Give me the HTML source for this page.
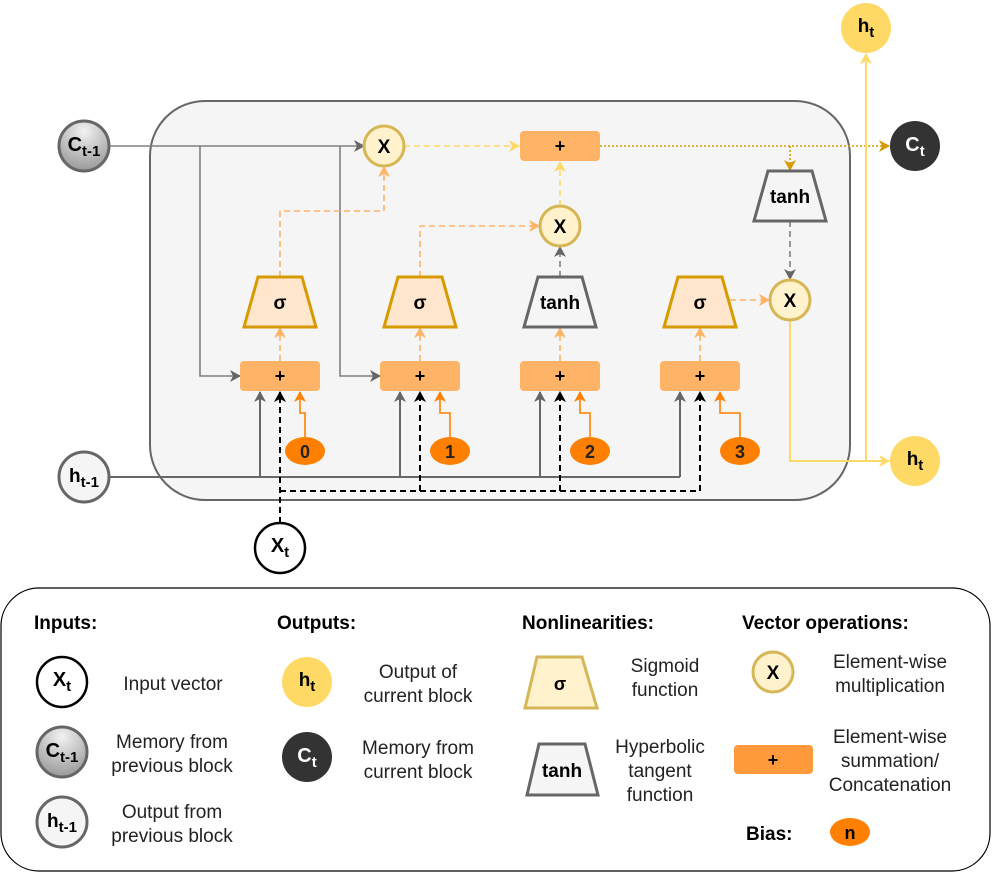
<!DOCTYPE html>
<html><head><meta charset="utf-8"><style>
body{margin:0;background:#fff}
svg{display:block;font-family:"Liberation Sans",Arial,sans-serif}
.b{font-weight:bold}
</style></head><body>
<svg width="992" height="873" viewBox="0 0 992 873" xmlns="http://www.w3.org/2000/svg">
<defs>
<radialGradient id="gc" cx="50%" cy="20%" r="80%"><stop offset="0" stop-color="#f2f2f2"/><stop offset="1" stop-color="#999"/></radialGradient>
<marker id="ag" markerWidth="12" markerHeight="12" refX="10" refY="6" orient="auto" markerUnits="userSpaceOnUse"><path d="M0,0 L11,6 L0,12 L3,6z" fill="#666"/></marker>
<marker id="ak" markerWidth="12" markerHeight="12" refX="10" refY="6" orient="auto" markerUnits="userSpaceOnUse"><path d="M0,0 L11,6 L0,12 L3,6z" fill="#000"/></marker>
<marker id="ao" markerWidth="12" markerHeight="12" refX="10" refY="6" orient="auto" markerUnits="userSpaceOnUse"><path d="M0,0 L11,6 L0,12 L3,6z" fill="#FF8000"/></marker>
<marker id="al" markerWidth="12" markerHeight="12" refX="10" refY="6" orient="auto" markerUnits="userSpaceOnUse"><path d="M0,0 L11,6 L0,12 L3,6z" fill="#FFB366"/></marker>
<marker id="ay" markerWidth="12" markerHeight="12" refX="10" refY="6" orient="auto" markerUnits="userSpaceOnUse"><path d="M0,0 L11,6 L0,12 L3,6z" fill="#FFD966"/></marker>
<marker id="ad" markerWidth="12" markerHeight="12" refX="10" refY="6" orient="auto" markerUnits="userSpaceOnUse"><path d="M0,0 L11,6 L0,12 L3,6z" fill="#D79B00"/></marker>
</defs>

<rect x="150" y="101" width="700" height="399" rx="55" fill="#f5f5f5" stroke="#666" stroke-width="2"/>

<g stroke="#808080" stroke-width="1.6" fill="none">
<path d="M109,146 H364" marker-end="url(#ag)"/>
<path d="M200,146 V376 H240" marker-end="url(#ag)"/>
<path d="M340,146 V376 H380" marker-end="url(#ag)"/>
</g>
<g stroke="#666" stroke-width="2" fill="none">
<path d="M109,477 H680"/>
<path d="M260,477 V392" marker-end="url(#ag)"/>
<path d="M400,477 V392" marker-end="url(#ag)"/>
<path d="M540,477 V392" marker-end="url(#ag)"/>
<path d="M680,477 V392" marker-end="url(#ag)"/>
</g>
<g stroke="#000" stroke-width="2" fill="none" stroke-dasharray="6,4">
<path d="M280,523 V392" marker-end="url(#ak)"/>
<path d="M280,491 H700"/>
<path d="M420,491 V392" marker-end="url(#ak)"/>
<path d="M560,491 V392" marker-end="url(#ak)"/>
<path d="M700,491 V392" marker-end="url(#ak)"/>
</g>
<g stroke="#FF8000" stroke-width="1.6" fill="none">
<path d="M305,437 V413 H300 V392" marker-end="url(#ao)"/>
<path d="M450,437 V413 H440 V392" marker-end="url(#ao)"/>
<path d="M590,437 V413 H580 V392" marker-end="url(#ao)"/>
<path d="M740,437 V413 H720 V392" marker-end="url(#ao)"/>
</g>
<g stroke="#FFB366" stroke-width="1.6" fill="none" stroke-dasharray="6,4">
<path d="M280,361 V328" marker-end="url(#al)"/>
<path d="M420,361 V328" marker-end="url(#al)"/>
<path d="M560,361 V328" marker-end="url(#al)"/>
<path d="M700,361 V328" marker-end="url(#al)"/>
<path d="M280,277 V211 H384 V167" marker-end="url(#al)"/>
<path d="M420,277 V226 H539" marker-end="url(#al)"/>
<path d="M730,300 H769" marker-end="url(#al)"/>
</g>
<g stroke="#FFD966" stroke-width="1.6" fill="none" stroke-dasharray="6,4">
<path d="M404,146 H519" marker-end="url(#ay)"/>
<path d="M560,206 V162" marker-end="url(#ay)"/>
</g>
<g stroke="#808080" stroke-width="1.6" fill="none" stroke-dasharray="6,4">
<path d="M560,277 V247" marker-end="url(#ag)"/>
<path d="M790,221 V279" marker-end="url(#ag)"/>
</g>
<g stroke="#D79B00" stroke-width="1.6" fill="none" stroke-dasharray="2,2">
<path d="M600,146 H889" marker-end="url(#ad)"/>
<path d="M790,146 V170" marker-end="url(#ad)"/>
</g>
<g stroke="#FFD966" stroke-width="2" fill="none">
<path d="M790,320 V461 H889" marker-end="url(#ay)"/>
<path d="M866,461 V54" marker-end="url(#ay)"/>
</g>

<g fill="#FFB366">
<rect x="520" y="131" width="80" height="30" rx="4"/>
<rect x="240" y="361" width="80" height="30" rx="4"/>
<rect x="380" y="361" width="80" height="30" rx="4"/>
<rect x="520" y="361" width="80" height="30" rx="4"/>
<rect x="660" y="361" width="80" height="30" rx="4"/>
</g>
<g class="b" font-size="18" text-anchor="middle">
<text x="560" y="152">+</text><text x="280" y="382">+</text><text x="420" y="382">+</text><text x="560" y="382">+</text><text x="700" y="382">+</text>
</g>
<g stroke-width="3">
<path d="M258,277 H302 L316,327 H244Z" fill="#FFE6CC" stroke="#D79B00"/>
<path d="M398,277 H442 L456,327 H384Z" fill="#FFE6CC" stroke="#D79B00"/>
<path d="M678,277 H722 L736,327 H664Z" fill="#FFE6CC" stroke="#D79B00"/>
<path d="M538,277 H582 L596,327 H524Z" fill="#f5f5f5" stroke="#666"/>
<path d="M768,171 H812 L826,221 H754Z" fill="#f5f5f5" stroke="#666"/>
</g>
<g class="b" font-size="19" text-anchor="middle">
<text x="280" y="309">σ</text><text x="420" y="309">σ</text><text x="700" y="309">σ</text>
<text x="560" y="309">tanh</text><text x="790" y="203">tanh</text>
</g>
<g fill="#FFF2CC" stroke="#D6B656" stroke-width="3">
<circle cx="384" cy="146" r="20"/><circle cx="560" cy="226" r="20"/><circle cx="790" cy="300" r="20"/>
</g>
<g class="b" font-size="19" text-anchor="middle">
<text x="384" y="153">X</text><text x="560" y="233">X</text><text x="790" y="307">X</text>
</g>
<g fill="#FF8000">
<ellipse cx="305" cy="451" rx="20" ry="14"/><ellipse cx="450" cy="451" rx="20" ry="14"/><ellipse cx="590" cy="451" rx="20" ry="14"/><ellipse cx="740" cy="451" rx="20" ry="14"/>
</g>
<g class="b" font-size="18" text-anchor="middle" fill="#222">
<text x="305" y="458">0</text><text x="450" y="458">1</text><text x="590" y="458">2</text><text x="740" y="458">3</text>
</g>

<circle cx="84" cy="146" r="25" fill="url(#gc)" stroke="#666" stroke-width="3"/>
<text x="84" y="151" class="b" font-size="20" text-anchor="middle">C<tspan font-size="15" dy="5">t-1</tspan></text>
<circle cx="84" cy="477" r="25" fill="#f5f5f5" stroke="#666" stroke-width="3"/>
<text x="84" y="482" class="b" font-size="19" text-anchor="middle">h<tspan font-size="15" dy="5">t-1</tspan></text>
<circle cx="280" cy="548" r="25" fill="#fff" stroke="#000" stroke-width="2.5"/>
<text x="280" y="552" class="b" font-size="20" text-anchor="middle">X<tspan font-size="15" dy="5">t</tspan></text>
<circle cx="866" cy="28" r="25" fill="#FFD966"/>
<text x="866" y="32" class="b" font-size="19" text-anchor="middle">h<tspan font-size="15" dy="5">t</tspan></text>
<circle cx="915" cy="146" r="25" fill="#333"/>
<text x="915" y="151" class="b" font-size="20" text-anchor="middle" fill="#fff">C<tspan font-size="15" dy="5">t</tspan></text>
<circle cx="915" cy="461" r="25" fill="#FFD966"/>
<text x="915" y="465" class="b" font-size="19" text-anchor="middle">h<tspan font-size="15" dy="5">t</tspan></text>

<rect x="1" y="588" width="989" height="283" rx="38" fill="#fff" stroke="#000" stroke-width="1.2"/>
<g class="b" font-size="19">
<text x="34" y="629">Inputs:</text><text x="277" y="629">Outputs:</text><text x="522" y="629">Nonlinearities:</text><text x="742" y="629">Vector operations:</text>
<text x="746" y="840">Bias:</text>
</g>
<circle cx="62" cy="682" r="25" fill="#fff" stroke="#000" stroke-width="2.5"/>
<text x="62" y="686" class="b" font-size="20" text-anchor="middle">X<tspan font-size="15" dy="5">t</tspan></text>
<circle cx="62" cy="752" r="25" fill="url(#gc)" stroke="#666" stroke-width="3"/>
<text x="62" y="757" class="b" font-size="20" text-anchor="middle">C<tspan font-size="15" dy="5">t-1</tspan></text>
<circle cx="62" cy="822" r="25" fill="#f5f5f5" stroke="#666" stroke-width="3"/>
<text x="62" y="827" class="b" font-size="19" text-anchor="middle">h<tspan font-size="15" dy="5">t-1</tspan></text>
<circle cx="307" cy="682" r="25" fill="#FFD966"/>
<text x="307" y="686" class="b" font-size="19" text-anchor="middle">h<tspan font-size="15" dy="5">t</tspan></text>
<circle cx="307" cy="757" r="25" fill="#333"/>
<text x="307" y="762" class="b" font-size="20" text-anchor="middle" fill="#fff">C<tspan font-size="15" dy="5">t</tspan></text>

<path d="M537,657 H582 L597,708 H525Z" fill="#FFF2CC" stroke="#D6B656" stroke-width="3"/>
<text x="560" y="690" class="b" font-size="18" text-anchor="middle">σ</text>
<path d="M539,744 H585 L598,795 H527Z" fill="#f5f5f5" stroke="#666" stroke-width="3"/>
<text x="562" y="777" class="b" font-size="19" text-anchor="middle">tanh</text>
<circle cx="773" cy="672" r="20" fill="#FFF2CC" stroke="#D6B656" stroke-width="3"/>
<text x="773" y="679" class="b" font-size="19" text-anchor="middle">X</text>
<rect x="734" y="745" width="79" height="29" rx="4" fill="#FF9A3C"/>
<text x="773" y="766" class="b" font-size="18" text-anchor="middle">+</text>
<ellipse cx="850" cy="832" rx="20" ry="14" fill="#FF8000"/>
<text x="850" y="839" class="b" font-size="18" text-anchor="middle">n</text>

<g font-size="19" text-anchor="middle" fill="#222">
<text x="173" y="690">Input vector</text>
<text x="172" y="748">Memory from</text><text x="172" y="772">previous block</text>
<text x="172" y="818">Output from</text><text x="172" y="842">previous block</text>
<text x="418" y="678">Output of</text><text x="418" y="702">current block</text>
<text x="418" y="754">Memory from</text><text x="418" y="778">current block</text>
<text x="665" y="672">Sigmoid</text><text x="665" y="696">function</text>
<text x="660" y="753">Hyperbolic</text><text x="660" y="777">tangent</text><text x="660" y="801">function</text>
<text x="890" y="668">Element-wise</text><text x="890" y="692">multiplication</text>
<text x="890" y="743">Element-wise</text><text x="890" y="767">summation/</text><text x="890" y="791">Concatenation</text>
</g>
</svg>
</body></html>
